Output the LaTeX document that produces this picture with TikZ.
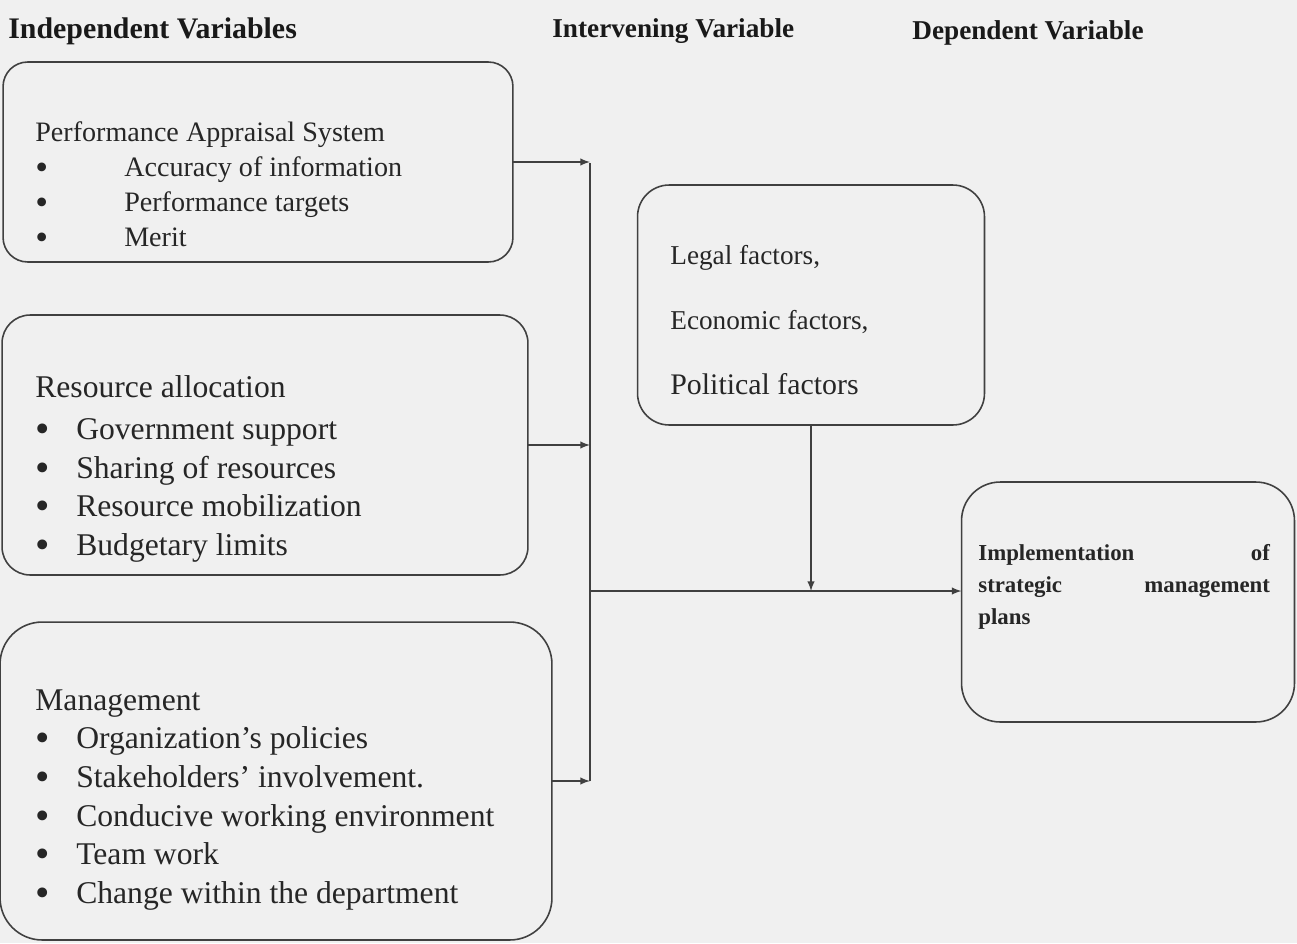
\documentclass[tikz,border=0pt]{standalone}
\usepackage{fontspec}
\setmainfont{Liberation Serif}
\usetikzlibrary{positioning}
\newcommand{\bul}[1]{\makebox[#1][l]{\smash{\raisebox{-0.1em}{\scalebox{1.3}{\textbullet}}}}}

\begin{document}
\begin{tikzpicture}[x=0.02cm, y=-0.02cm, box/.style={rounded corners=14pt, rectangle, draw, line width=0.9pt, color=black!75, inner sep=0pt, outer sep=0pt}, head/.style={anchor=west, inner sep=0pt, text=black!90}, txt/.style={anchor=north west, align=left, inner sep=0pt, text=black!85}, link/.style={draw, line width=0.9pt, color=black!75}]

        \fill[black!6] (0,0) rectangle (1297,943);
        \useasboundingbox (0,0) rectangle (1297,943);

        \node[head, font=\bfseries\fontsize{17}{20}\selectfont] (indephead) at (8,31) {Independent Variables};
        \node[head, font=\bfseries\fontsize{15.5}{18}\selectfont] (intervhead) at (552,31) {Intervening Variable};
        \node[head, font=\bfseries\fontsize{15.5}{18}\selectfont] (dephead) at (912,33) {Dependent Variable};

        \node[box, minimum width=10.2cm, minimum height=4cm] (pas) at (258,162) {};
        \node[box, minimum width=10.52cm, minimum height=5.2cm, rounded corners=16pt] (res) at (265,445) {};
        \node[box, minimum width=11.04cm, minimum height=6.36cm, rounded corners=24pt] (mgmt) at (276,781) {};
        \node[box, minimum width=6.94cm, minimum height=4.8cm, rounded corners=18pt] (factors) at (811,305) {};
        \node[box, minimum width=6.66cm, minimum height=4.8cm, rounded corners=22pt] (impl) at (1128,602) {};

        \node[txt, font=\fontsize{16}{20}\selectfont] (pastext) at (35,121) {Performance Appraisal System\\ \bul{50.6pt}Accuracy of information\\ \bul{50.6pt}Performance targets\\ \bul{50.6pt}Merit};
        \node[txt, font=\fontsize{18}{22}\selectfont] (restext) at (35,375) {Resource allocation\\[2pt] \bul{23.3pt}Government support\\ \bul{23.3pt}Sharing of resources\\ \bul{23.3pt}Resource mobilization\\ \bul{23.3pt}Budgetary limits};
        \node[txt, font=\fontsize{18}{22}\selectfont] (mgmttext) at (35,689) {Management\\ \bul{23.3pt}Organization's policies\\ \bul{23.3pt}Stakeholders' involvement.\\ \bul{23.3pt}Conducive working environment\\ \bul{23.3pt}Team work\\ \bul{23.3pt}Change within the department};
        \node[txt, font=\fontsize{15.5}{37}\selectfont] (factorstext) at (670,245) {Legal factors,\\ Economic factors,\\ {\fontsize{17}{37}\selectfont Political factors}};
        \node[txt, text width=166pt, font=\bfseries\fontsize{13}{18.2}\selectfont] (impltext) at (978,544) {Implementation\hfill of\\ strategic\hfill management\\ plans};

        \coordinate (bustop) at (590,163);
        \coordinate (hub) at (590,591);

        \path[link] (bustop) -- (mgmt -| bustop);
        \path[link, -latex] (pas) -- (pas -| bustop);
        \path[link, -latex] (res) -- (res -| bustop);
        \path[link, -latex] (mgmt) -- (mgmt -| bustop);
        \path[link, -latex] (hub) -- (hub -| impl.west);
        \path[link, -latex] (factors) -- (factors |- hub);
\end{tikzpicture}
\end{document}
